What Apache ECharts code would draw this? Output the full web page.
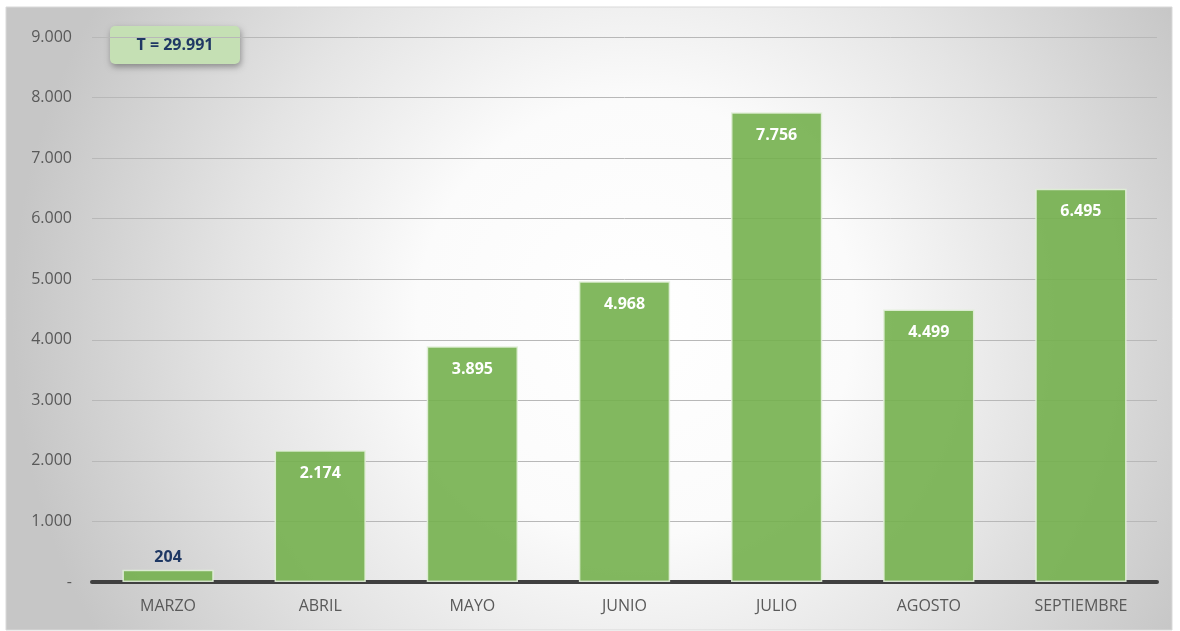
<!DOCTYPE html>
<html>
<head>
<meta charset="utf-8">
<script src="https://cdn.jsdelivr.net/npm/echarts@6/dist/echarts.min.js"></script>
<style>
  html, body { margin: 0; padding: 0; background: #fff; }
  #chart { width: 1180px; height: 631px; }
</style>
</head>
<body>
<div id="chart"></div>
<script>
const months = ['MARZO', 'ABRIL', 'MAYO', 'JUNIO', 'JULIO', 'AGOSTO', 'SEPTIEMBRE'];
const values = [204, 2174, 3895, 4968, 7756, 4499, 6495];
const totalLabel = 'T = 29.991';

function fmt(v) {
  if (v === 0) return '-';
  return String(v).replace(/\B(?=(\d{3})+(?!\d))/g, '.');
}

const chart = echarts.init(document.getElementById('chart'));
const option = {
  animation: false,
  graphic: [
    {
      type: 'rect',
      z: -10,
      silent: true,
      shape: { x: 6, y: 7, width: 1166, height: 623 },
      style: {
        fill: {
          type: 'radial', x: 0.54, y: 0.5, r: 1.0,
          colorStops: [
            { offset: 0, color: '#ffffff' },
            { offset: 0.35, color: '#fbfbfb' },
            { offset: 0.65, color: '#e4e4e4' },
            { offset: 1, color: '#c6c6c6' }
          ]
        },
        stroke: '#d9d9d9',
        lineWidth: 1
      }
    },
    {
      type: 'group',
      left: 110,
      top: 26,
      children: [
        {
          type: 'rect',
          shape: { width: 130, height: 38, r: 5 },
          style: {
            fill: '#c5e0b4',
            shadowBlur: 6,
            shadowOffsetX: 1,
            shadowOffsetY: 3,
            shadowColor: 'rgba(0,0,0,0.35)'
          }
        },
        {
          type: 'text',
          x: 65,
          y: 19,
          style: {
            text: totalLabel,
            align: 'center',
            verticalAlign: 'middle',
            fontSize: 16,
            fontWeight: 'bold',
            fontFamily: '"Open Sans", sans-serif',
            fill: '#1f3864'
          }
        }
      ]
    }
  ],
  grid: { left: 92, right: 23, top: 37, bottom: 49 },
  xAxis: {
    type: 'category',
    data: months,
    axisTick: { show: false },
    axisLine: { lineStyle: { color: '#404040', width: 4 } },
    axisLabel: { color: '#595959', fontSize: 16, margin: 16, fontFamily: '"Open Sans", sans-serif' }
  },
  yAxis: {
    type: 'value',
    min: 0,
    max: 9000,
    interval: 1000,
    axisLine: { show: false },
    axisTick: { show: false },
    axisLabel: {
      color: '#595959', fontSize: 16, margin: 20,
      fontFamily: '"Open Sans", sans-serif',
      formatter: fmt
    },
    splitLine: { lineStyle: { color: '#b8b8b8', width: 1 } }
  },
  series: [{
    type: 'bar',
    data: values.map(function (v, i) {
      return {
        value: v,
        label: i === 0
          ? { position: 'top', color: '#1f3864', distance: 4 }
          : { position: 'insideTop', color: '#ffffff', distance: 15 }
      };
    }),
    barCategoryGap: '40%',
    itemStyle: {
      color: 'rgba(116,176,78,0.9)',
      borderColor: 'rgba(226,240,217,0.9)',
      borderWidth: 1.5
    },
    label: {
      show: true,
      fontSize: 16,
      fontWeight: 'bold',
      fontFamily: '"Open Sans", sans-serif',
      formatter: function (p) { return fmt(p.value); }
    }
  }]
};
chart.setOption(option);
</script>
</body>
</html>
